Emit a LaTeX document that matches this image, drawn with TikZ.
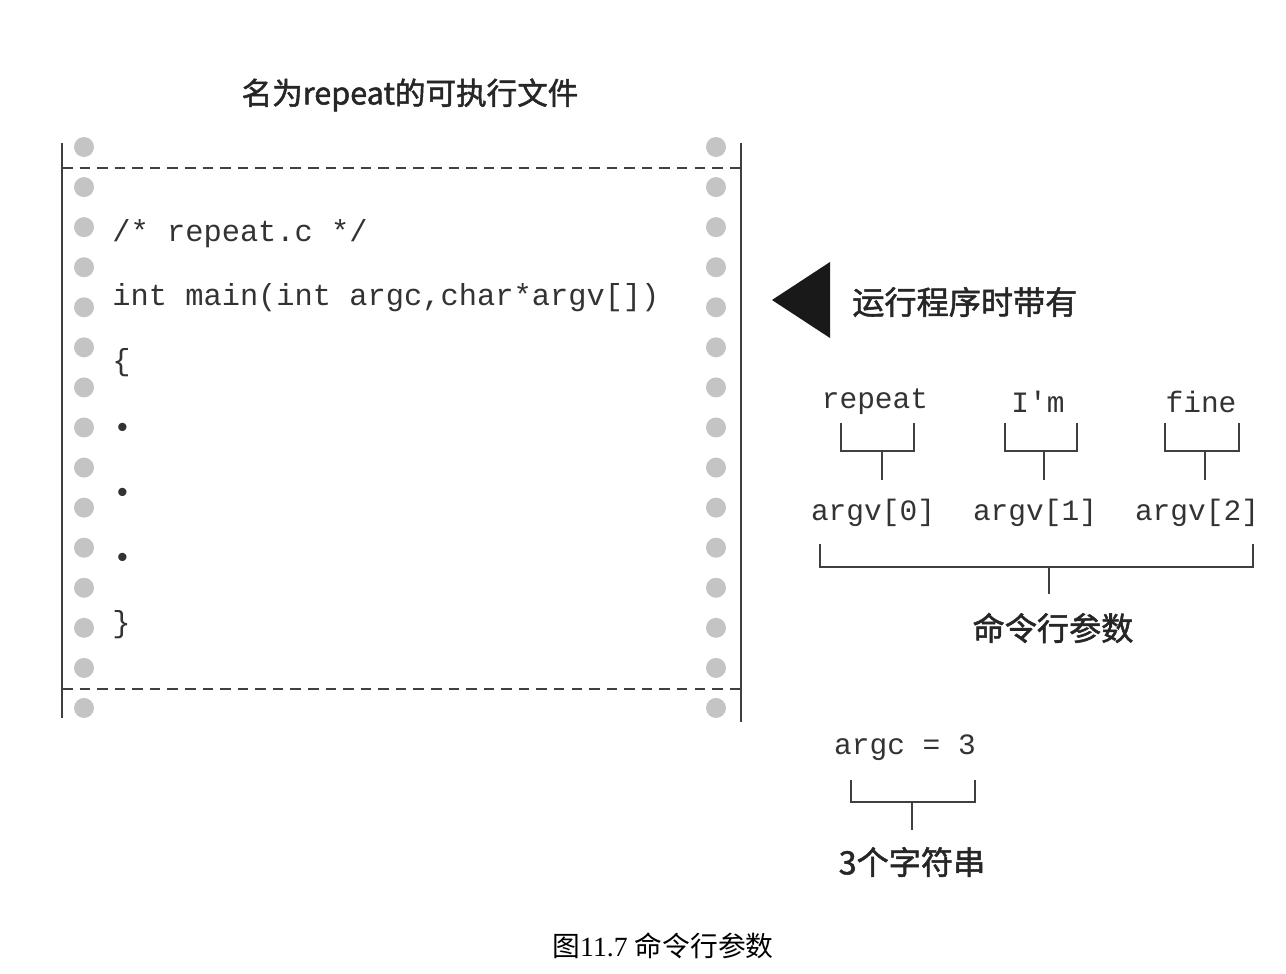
\documentclass[tikz,border=0pt]{standalone}
\usepackage{fontspec}
\setmainfont{Liberation Serif}
\newfontfamily\cjk{Noto Sans CJK SC}
\newfontfamily\cjkb[FakeBold=1.6]{Noto Sans CJK SC}
\newfontfamily\mono{Liberation Mono}
\definecolor{dotgray}{HTML}{C4C4C4}
\definecolor{ink}{HTML}{333333}
\definecolor{linegray}{HTML}{404040}
\tikzset{
  code/.style={font=\mono\fontsize{17.3pt}{20pt}\selectfont, text=ink, anchor=west, inner sep=0pt},
  arglabel/.style={font=\mono\fontsize{16.8pt}{20pt}\selectfont, text=ink, inner sep=0pt},
  cjklabel/.style={font=\cjkb\fontsize{18.3pt}{22pt}\selectfont, text=black!85, inner sep=0pt},
  bracket/.style={draw=linegray, line width=0.9pt},
  holedot/.style={fill=dotgray, draw=none},
  frame/.style={draw=linegray, line width=1.1pt},
  perforation/.style={draw=linegray, line width=1.5pt, dash pattern=on 6pt off 4pt}
}
\begin{document}
\begin{tikzpicture}[x=0.02cm, y=-0.02cm]
\useasboundingbox (0,0) rectangle (1286,974);
% title
\node[font=\cjkb\fontsize{17.4pt}{21pt}\selectfont, text=black!85, inner sep=0pt] (title) at (410,95) {名为repeat的可执行文件};
% frame
\draw[frame] (62,143) -- (62,718);
\draw[frame] (741,143) -- (741,722);
\draw[perforation] (62,168) -- (741,168);
\draw[perforation] (62,689) -- (741,689);
\foreach \i in {0,...,14}{
  \fill[holedot] (84,{147+40.07*\i}) circle (10);
  \fill[holedot] (716,{147+40.07*\i}) circle (10);
}
% code
\node[code] (c1) at (112,234) {/* repeat.c */};
\node[code] (c2) at (112,298) {int main(int argc,char*argv[])};
\node[code] (c3) at (112,363) {\{};
\node[code] (c4) at (113,430) {•};
\node[code] (c5) at (113,495) {•};
\node[code] (c6) at (113,560) {•};
\node[code] (c7) at (112,625) {\}};
% triangle
\fill[black!90] (772,300) -- (830,262) -- (830,338) -- cycle;
\node[cjklabel, anchor=west] (run) at (852,302) {运行程序时带有};
% words
\node[arglabel] (w0) at (875,402) {repeat};
\node[arglabel] (w1) at (1038,402) {I'm};
\node[arglabel] (w2) at (1201,402) {fine};
\node[arglabel] (a0) at (873,513) {argv[0]};
\node[arglabel] (a1) at (1035,513) {argv[1]};
\node[arglabel] (a2) at (1197,513) {argv[2]};
% small brackets
\coordinate (s0) at (882,480);
\coordinate (s1) at (1044,480);
\coordinate (s2) at (1205,480);
\draw[bracket] (841,423) -- (841,451) -- (914,451) -- (914,423);
\draw[bracket] (882,451) -- (s0);
\draw[bracket] (1005,423) -- (1005,451) -- (1077,451) -- (1077,423);
\draw[bracket] (1044,451) -- (s1);
\draw[bracket] (1165,423) -- (1165,451) -- (1239,451) -- (1239,423);
\draw[bracket] (1205,451) -- (s2);
% big bracket
\node[cjklabel] (cmd) at (1053,628) {命令行参数};
\draw[bracket] (820,544) -- (820,567) -- (1253,567) -- (1253,544);
\draw[bracket] (1049,567) -- (1049,594);
% argc
\node[arglabel] (argc) at (905,748) {argc = 3};
\draw[bracket] (851,780) -- (851,802) -- (975,802) -- (975,780);
\draw[bracket] (912,802) -- (912,830);
\node[cjklabel] (three) at (912,862) {3个字符串};
% caption
\node[inner sep=0pt, font=\fontsize{15.8pt}{19pt}\selectfont] (cap) at (663,946) {{\cjk 图}11.7 {\cjk 命令行参数}};
\end{tikzpicture}
\end{document}
